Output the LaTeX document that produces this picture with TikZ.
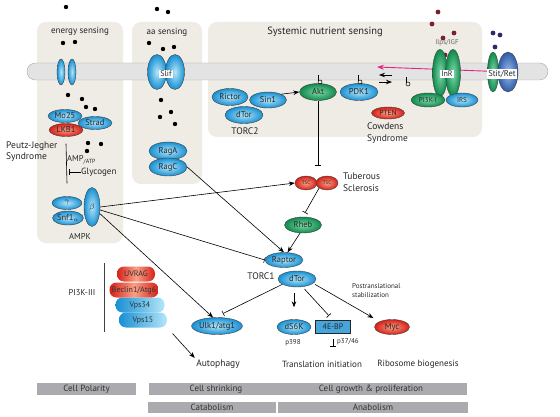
\documentclass[tikz,border=0pt]{standalone}
\usepackage{fontspec}
\setmainfont{PT Sans}
\usetikzlibrary{arrows.meta,shapes.geometric}

\tikzset{
  prot/.style={ellipse, draw=black!75, line width=0.4pt, inner sep=0pt, text=black!85, font=\fontsize{8.5}{9}\selectfont},
  blueprot/.style={prot, inner color=blueL, outer color=blueD},
  greenprot/.style={prot, inner color=greenL, outer color=greenD},
  redprot/.style={prot, inner color=redL, outer color=redD},
  pill/.style={rectangle, rounded corners=7pt, minimum height=15pt, inner sep=0pt, text=black!80, font=\fontsize{8}{9}\selectfont},
  lbl/.style={inner sep=0pt, text=black!85, font=\fontsize{9.5}{11.5}\selectfont},
  tinylbl/.style={inner sep=0pt, text=black!85, font=\fontsize{7}{8}\selectfont},
  membox/.style={fill=white, inner sep=1pt, text=black!85, font=\fontsize{8}{9}\selectfont},
  catbar/.style={fill=barg, inner sep=0pt, minimum height=12pt, text=black!80, font=\fontsize{9}{10}\selectfont},
  act/.style={-{Stealth[length=6pt,width=4.5pt]}, line width=0.6pt},
  inhib/.style={-{Bar[width=6pt]}, line width=0.6pt}
}

\begin{document}
\begin{tikzpicture}[x=1pt,y=-1pt]
\definecolor{blueD}{HTML}{1890D2}
\definecolor{blueL}{HTML}{B4E6FA}
\definecolor{greenD}{HTML}{0E8A4C}
\definecolor{greenL}{HTML}{80D8AA}
\definecolor{redD}{HTML}{D61F18}
\definecolor{redL}{HTML}{F9A085}
\definecolor{retD}{HTML}{2E5BA8}
\definecolor{retL}{HTML}{9DBCEB}
\definecolor{beige}{HTML}{EFEBE5}
\definecolor{membr}{HTML}{E3E3E3}
\definecolor{barg}{HTML}{ABABAF}
\definecolor{pink}{HTML}{E8237F}
\definecolor{wine}{HTML}{7A1F2E}
\definecolor{navy}{HTML}{2B2B6B}

\useasboundingbox (0,0) rectangle (560,417);

% sensing compartments
\fill[beige, rounded corners=9pt] (37,22) rectangle (123,243);
\fill[beige, rounded corners=9pt] (132,22) rectangle (202,184);
\fill[beige, rounded corners=9pt] (208,22) rectangle (482,137);
\node[lbl, font=\fontsize{9}{10}\selectfont] (energy) at (80,31) {energy sensing};
\node[lbl, font=\fontsize{9}{10}\selectfont] (aasens) at (167,32) {aa sensing};
\node[lbl, font=\fontsize{10.5}{12}\selectfont] (systemic) at (325,32) {Systemic nutrient sensing};

% membrane
\draw[membr!75!black, fill=membr, rounded corners=8.5pt] (27,63) rectangle (548,80);

% ligands
\foreach \x/\y in {66/7,157/9,168/12,63/43,75/42,149/43,163/49,174/47,68/95,82/99,86/107,95/109,
                   161/100,171/112,160/117,175/124,88/143,101/144,87/151} {
  \fill (\x,\y) circle (2.2pt);
}
\foreach \x/\y in {438/12,432/24,443/38,454/33,445/55} {
  \fill[wine] (\x,\y) circle (2.4pt);
}
\foreach \x/\y in {493/33,500/35,495/47} {
  \fill[navy] (\x,\y) circle (2.4pt);
}

% energy sensing
\node[blueprot, minimum width=8pt, minimum height=26pt] (chanA) at (61,72) {};
\node[blueprot, minimum width=8pt, minimum height=26pt] (chanB) at (72,72) {};
\node[blueprot, minimum width=34pt, minimum height=13pt] (Mo25) at (65,116) {Mo25};
\node[blueprot, minimum width=34pt, minimum height=13pt] (Strad) at (95,123) {Strad};
\node[redprot, minimum width=34pt, minimum height=13pt] (LKB1) at (66,130) {LKB1};
\node[lbl, align=left, anchor=west, font=\fontsize{9.5}{11}\selectfont] (peutz) at (6,152) {Peutz-Jegher\\Syndrome};
\node[lbl, anchor=west, font=\fontsize{8.5}{9}\selectfont] (amp) at (67,160) {AMP\textsubscript{/ATP}};
\node[lbl, anchor=west, font=\fontsize{9}{10}\selectfont] (glyco) at (81,172) {Glycogen};
\node[blueprot, minimum width=30pt, minimum height=13pt] (gamma) at (67,203) {$\gamma$};
\node[blueprot, minimum width=30pt, minimum height=14pt] (snf) at (68,218) {Snf1\textsubscript{$\alpha$}};
\node[blueprot, minimum width=16pt, minimum height=39pt] (beta) at (92,207) {$\beta$};
\node[lbl, font=\fontsize{8.5}{9}\selectfont] (ampk) at (80,236) {AMPK};
\draw[line width=0.6pt] ([yshift=-7pt]LKB1.south) -- ([yshift=13pt]gamma.north);
\draw[inhib] (glyco.west) -- ++(-12,0);

% aa sensing
\node[blueprot, minimum width=19pt, minimum height=35pt] (slifA) at (157,72) {};
\node[blueprot, minimum width=19pt, minimum height=35pt] (slifB) at (175,72) {};
\node[membox] (slif) at (166,74) {Slif};
\node[blueprot, minimum width=38pt, minimum height=18pt] (RagA) at (168,151) {RagA};
\node[blueprot, minimum width=38pt, minimum height=18pt] (RagC) at (168,167) {RagC};

% systemic nutrient sensing
\coordinate (pinkEnd) at (377,67);
\node[greenprot, minimum width=11pt, minimum height=40pt] (stitG) at (493,72) {};
\draw[pink, -{Stealth[length=7pt,width=5pt]}, line width=0.9pt] (stitG.172) -- (pinkEnd);
\node[prot, inner color=retL, outer color=retD, minimum width=20pt, minimum height=40pt] (retB) at (508,72) {};
\node[membox, font=\fontsize{8.5}{9}\selectfont] (stit) at (502,74) {Stit/Ret};
\node[greenprot, minimum width=15pt, minimum height=47pt] (InRa) at (440,73) {};
\node[greenprot, minimum width=15pt, minimum height=47pt] (InRb) at (453,73) {};
\node[membox] (inr) at (447,74) {InR};
\node[tinylbl, text=black!60] (ilps) at (447,43) {Ilps/IGF};
\node[greenprot, minimum width=34pt, minimum height=14pt, font=\fontsize{7}{8}\selectfont] (PI3K) at (428,100) {PI3K-I};
\node[blueprot, minimum width=32pt, minimum height=14pt, font=\fontsize{7}{8}\selectfont] (IRS) at (462,100) {IRS};
\node[blueprot, minimum width=36pt, minimum height=17pt] (Rictor) at (230,97) {Rictor};
\node[blueprot, minimum width=37pt, minimum height=16pt] (Sin1) at (268,100) {Sin1};
\node[blueprot, minimum width=38pt, minimum height=17pt] (dTor2) at (244,115) {dTor};
\node[lbl] (torc2) at (245,131) {TORC2};
\node[greenprot, minimum width=37pt, minimum height=17pt] (Akt) at (318,92) {Akt};
\node[blueprot, minimum width=38pt, minimum height=17pt] (PDK1) at (359,92) {PDK1};
\node[redprot, minimum width=33pt, minimum height=12pt, font=\fontsize{7.5}{8}\selectfont] (PTEN) at (388,113) {PTEN};
\node[lbl, align=left, anchor=west] (cowden) at (367,133) {Cowdens\\Syndrome};
\draw[act] (Sin1.north east) -- (Akt.west);
\coordinate (eqR) at (392,75);
\coordinate (eqL) at (379,75);
\coordinate (fwL) at (379,82);
\coordinate (fwR) at (392,82);
\draw[act, line width=0.8pt] (eqR) -- (eqL);
\draw[act, line width=0.8pt] (fwL) -- (fwR);

% phosphate marks
\foreach \px/\py in {318/82, 358/82, 406/84} {
  \draw[line width=0.5pt] (\px,\py-7) -- (\px,\py-1);
  \draw[line width=0.5pt] (\px+2,\py) circle (2pt);
}

% TORC1 branch
\node[redprot, minimum width=22pt, minimum height=14pt, font=\fontsize{5}{5}\selectfont] (TSC1) at (306,183) {TSC};
\node[redprot, minimum width=22pt, minimum height=14pt, font=\fontsize{5}{5}\selectfont] (TSC2) at (327,183) {TSC};
\node[lbl, align=left, anchor=west] (tuber) at (343,182) {Tuberous\\Sclerosis};
\node[greenprot, minimum width=37pt, minimum height=16pt] (Rheb) at (303,225) {Rheb};
\node[blueprot, minimum width=38pt, minimum height=15pt] (Raptor) at (284,260) {Raptor};
\node[blueprot, minimum width=38pt, minimum height=16pt] (dTor1) at (297,279) {dTor};
\node[lbl] (torc1) at (261,276) {TORC1};
\node[blueprot, minimum width=45pt, minimum height=17pt] (Ulk) at (217,326) {Ulk1/atg1};
\node[blueprot, minimum width=34pt, minimum height=15pt] (S6K) at (294,327) {dS6K};
\node[rectangle, draw=black!85, line width=0.7pt, fill=blueD!80, minimum width=35pt, minimum height=13pt, inner sep=0pt, text=black!85, font=\fontsize{8}{9}\selectfont] (EBP) at (333,327) {4E-BP};
\node[redprot, minimum width=35pt, minimum height=15pt] (Myc) at (392,327) {Myc};
\node[tinylbl] (p398) at (293,343) {p398};
\node[tinylbl, anchor=west] (p3746) at (337,342) {p37/46};
\node[tinylbl, align=left, anchor=west, font=\fontsize{7}{9}\selectfont] (postr) at (352,291) {Postranslational\\stabilization};
\coordinate (tscTop) at (318,166);
\coordinate (ebpT) at (333,347);

\draw[inhib] (Akt.south) -- (tscTop);
\draw[act] (beta.east) -- (TSC1.west);
\draw[inhib] (TSC2.south west) -- ([xshift=2pt,yshift=4pt]Rheb.north);
\draw[act] (Rheb.250) -- (Raptor.65);
\draw[act] (RagC.east) -- (Raptor.north);
\draw[inhib] (beta.-20) -- (Raptor.west);
\draw[act] (beta.-40) -- (Ulk.115);
\draw[inhib] (dTor1.200) -- ([yshift=4pt]Ulk.55);
\draw[act, shorten <=6pt, shorten >=12pt] (dTor1.south -| S6K.north) -- (S6K.north);
\draw[inhib, shorten <=3pt, shorten >=6pt] (dTor1.-55) -- (EBP.north);
\draw[act, shorten <=2pt, shorten >=7pt] (dTor1.-15) -- (Myc.north west);
\draw[inhib, shorten <=5pt] (EBP.south) -- (ebpT);

% PI3K-III complex
\node[pill, minimum width=38pt, left color=redD, right color=redD, middle color=redL] (UVRAG) at (136,274) {UVRAG};
\node[pill, minimum width=49pt, left color=redD, right color=redD, middle color=redL] (Beclin) at (134,290) {Beclin1/Atg6};
\node[pill, minimum width=49pt, left color=blueD, right color=blueL] (Vps34) at (140,305) {Vps34};
\node[pill, minimum width=48pt, left color=blueD, right color=blueL] (Vps15) at (143,320) {Vps15};
\node[lbl, font=\fontsize{8.5}{9}\selectfont] (pi3k3) at (82,293) {PI3K-III};
\coordinate (pi3Top) at (104,263);
\coordinate (pi3Bot) at (104,332);
\draw[line width=0.8pt, black!75] (pi3Top) -- (pi3Bot);

% outputs
\node[lbl] (autoph) at (218,364) {Autophagy};
\node[lbl, font=\fontsize{9}{10}\selectfont] (transl) at (322,364) {Translation initiation};
\node[lbl, font=\fontsize{9}{10}\selectfont] (ribo) at (418,364) {Ribosome biogenesis};
\draw[act, shorten <=8pt, shorten >=2pt] (Vps15.south east) -- (autoph.north west);

% process bars
\node[catbar, minimum width=99pt] (polarity) at (86.5,389) {Cell Polarity};
\fill[barg] (149,383) rectangle (467,395);
\node[lbl, text=black!80, font=\fontsize{9}{10}\selectfont] (shrink) at (216,389) {Cell shrinking};
\node[lbl, text=black!80, font=\fontsize{9}{10}\selectfont] (growth) at (371,389) {Cell growth \& proliferation};
\node[catbar, minimum width=128pt, minimum height=11pt] (catab) at (212,407.5) {Catabolism};
\node[catbar, minimum width=190pt, minimum height=11pt] (anab) at (373,407.5) {Anabolism};
\end{tikzpicture}
\end{document}
